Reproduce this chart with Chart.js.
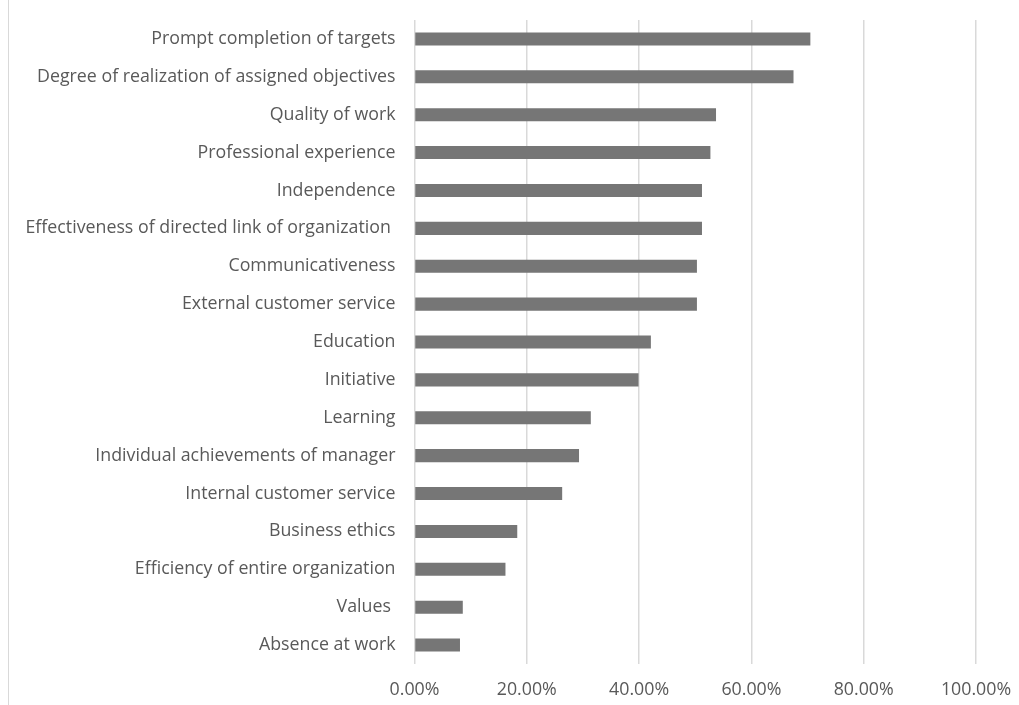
<!DOCTYPE html>
<html>
<head>
<meta charset="utf-8">
<script src="https://cdn.jsdelivr.net/npm/chart.js@4.4.0/dist/chart.umd.js"></script>
<style>
  html, body { margin: 0; padding: 0; background: #fff; }
  #wrap { position: relative; width: 1019px; height: 705px; }
  #frame { position: absolute; left: 8px; top: 0; width: 1px; height: 705px; background: #d9d9d9; }
  canvas { position: absolute; left: 0; top: 0; }
</style>
</head>
<body>
<div id="wrap">
  <div id="frame"></div>
  <canvas id="chart" width="1019" height="705"></canvas>
</div>
<script>
// criteria, top to bottom
const criteria = [
  'Prompt completion of targets',
  'Degree of realization of assigned objectives',
  'Quality of work',
  'Professional experience',
  'Independence',
  'Effectiveness of directed link of organization ',
  'Communicativeness',
  'External customer service',
  'Education',
  'Initiative',
  'Learning',
  'Individual achievements of manager',
  'Internal customer service',
  'Business ethics',
  'Efficiency of entire organization',
  'Values ',
  'Absence at work'
];

// share of respondents, %
const shares = [70.5, 67.5, 53.7, 52.7, 51.2, 51.2, 50.3, 50.3, 42.1, 39.9, 31.4, 29.3, 26.3, 18.3, 16.2, 8.6, 8.1];

const axisMin = 0;
const axisMax = 100;
const axisStep = 20;

const textColor = '#595959';
const gridColor = '#d9d9d9';
const barColor = '#767676';

Chart.defaults.font.family = '"Open Sans", Lato, sans-serif';
Chart.defaults.color = textColor;

new Chart(document.getElementById('chart').getContext('2d'), {
  type: 'bar',
  data: {
    labels: criteria,
    datasets: [{
      data: shares,
      backgroundColor: barColor,
      borderWidth: 0,
      categoryPercentage: 1,
      barPercentage: 0.345
    }]
  },
  options: {
    indexAxis: 'y',
    responsive: false,
    animation: false,
    layout: { padding: { top: 20, right: 43, left: 0, bottom: 0 } },
    plugins: {
      legend: { display: false },
      tooltip: { enabled: false }
    },
    scales: {
      x: {
        min: axisMin,
        max: axisMax,
        ticks: {
          stepSize: axisStep,
          padding: 15,
          font: { size: 17.8 },
          callback: v => v.toFixed(2) + '%'
        },
        grid: { color: gridColor, lineWidth: 1.5, drawTicks: false },
        border: { display: false },
        afterFit: s => {
          s.height = 41;
          s.paddingLeft = 0;
          s.paddingRight = 0;
        }
      },
      y: {
        ticks: { padding: 19, font: { size: 17.8 }, autoSkip: false },
        grid: { display: false, drawTicks: false },
        border: { display: false },
        afterFit: s => {
          s.width = 414.5;
          s.paddingTop = 0;
          s.paddingBottom = 0;
        }
      }
    }
  }
});
</script>
</body>
</html>
